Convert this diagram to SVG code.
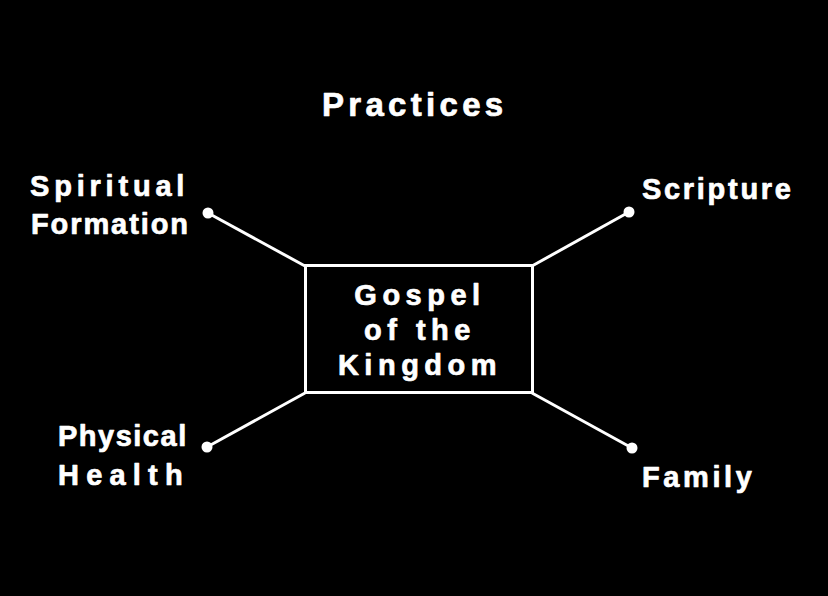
<svg xmlns="http://www.w3.org/2000/svg" width="828" height="596" viewBox="0 0 828 596">
<style>
text{font-family:"Liberation Sans",Arial,sans-serif;font-weight:bold;fill:#fff;font-size:29px;stroke:#fff;stroke-width:0.7px;stroke-linejoin:round}
.ln{stroke:#fff;stroke-width:3;fill:none}
.dot{fill:#fff}
</style>
<rect width="828" height="596" fill="#000"/>
<text id="title" x="322" y="116" style="font-size:33px;letter-spacing:4.3px">Practices</text>
<g id="connectors">
<line class="ln" x1="208" y1="213" x2="305" y2="266"/>
<line class="ln" x1="629" y1="212" x2="532" y2="266"/>
<line class="ln" x1="207" y1="447" x2="305" y2="393"/>
<line class="ln" x1="632" y1="448" x2="532" y2="393"/>
<circle class="dot" cx="208" cy="213" r="5.5"/>
<circle class="dot" cx="629" cy="212" r="5.5"/>
<circle class="dot" cx="207" cy="447" r="5.5"/>
<circle class="dot" cx="632" cy="448" r="5.5"/>
</g>
<g id="center">
<rect class="ln" x="305.5" y="265.5" width="227" height="127"/>
<text x="420" y="305" text-anchor="middle" style="letter-spacing:5.5px">Gospel</text>
<text x="420" y="340" text-anchor="middle" style="letter-spacing:5.5px">of the</text>
<text x="420" y="375" text-anchor="middle" style="letter-spacing:5.5px">Kingdom</text>
</g>
<g id="spiritual">
<text x="30" y="196" style="letter-spacing:4.8px">Spiritual</text>
<text x="31" y="234" style="letter-spacing:1.9px">Formation</text>
</g>
<g id="scripture"><text x="642" y="199" style="letter-spacing:2.7px">Scripture</text></g>
<g id="physical">
<text x="58" y="446" style="letter-spacing:1.5px">Physical</text>
<text x="58" y="485" style="letter-spacing:7.2px">Health</text>
</g>
<g id="family"><text x="642" y="487" style="letter-spacing:3.6px">Family</text></g>
</svg>
